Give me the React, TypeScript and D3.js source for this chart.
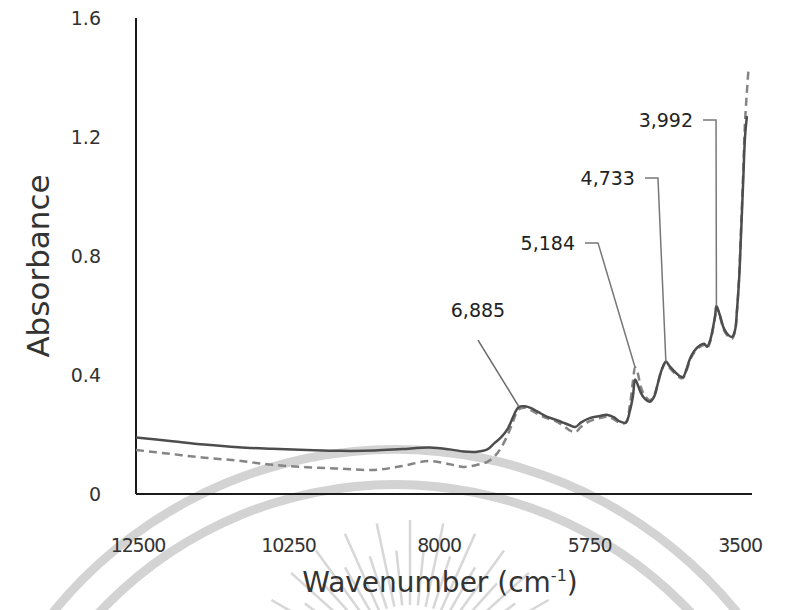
import React from "react";
import * as d3 from "d3";

// Wavenumber grid (cm^-1) and the two absorbance spectra
const wavenumbers = [
  12500, 12000, 11500, 11000, 10500, 10000, 9500, 9000, 8600, 8200, 7900, 7700,
  7500, 7350, 7250, 7150, 7050, 6980, 6930, 6885, 6800, 6700, 6600, 6480, 6350,
  6240, 6150, 6060, 5980, 5850, 5700, 5600, 5500, 5400, 5320, 5260, 5215, 5184,
  5150, 5100, 5040, 4966, 4900, 4849, 4790, 4733, 4680, 4600, 4520, 4482, 4430,
  4380, 4320, 4233, 4170, 4130, 4080, 4042, 4010, 3992, 3940, 3880, 3820, 3764,
  3720, 3690, 3660, 3630, 3600, 3573, 3545,
];

const sampleA = [
  0.19, 0.178, 0.166, 0.157, 0.152, 0.148, 0.145, 0.146, 0.151, 0.156, 0.15, 0.143,
  0.142, 0.15, 0.17, 0.19, 0.22, 0.255, 0.28, 0.293, 0.295, 0.288, 0.275, 0.26, 0.25,
  0.24, 0.232, 0.225, 0.24, 0.255, 0.262, 0.266, 0.258, 0.243, 0.24, 0.28, 0.33, 0.385,
  0.37, 0.34, 0.32, 0.31, 0.33, 0.373, 0.42, 0.445, 0.43, 0.41, 0.395, 0.393, 0.42,
  0.455, 0.48, 0.5, 0.505, 0.495, 0.52, 0.56, 0.6, 0.632, 0.6, 0.555, 0.535, 0.528,
  0.55, 0.62, 0.72, 0.88, 1.05, 1.2, 1.27,
];

const sampleB = [
  0.148, 0.135, 0.122, 0.112, 0.098, 0.09, 0.085, 0.081, 0.094, 0.111, 0.1, 0.091,
  0.098, 0.108, 0.125, 0.155, 0.2, 0.24, 0.27, 0.285, 0.29, 0.28, 0.268, 0.255, 0.245,
  0.23, 0.215, 0.208, 0.225, 0.245, 0.255, 0.26, 0.252, 0.238, 0.24, 0.3, 0.38, 0.425,
  0.41, 0.36, 0.33, 0.315, 0.335, 0.375, 0.42, 0.44, 0.425, 0.405, 0.39, 0.39, 0.415,
  0.45, 0.475, 0.495, 0.5, 0.49, 0.515, 0.555, 0.6, 0.63, 0.595, 0.55, 0.53, 0.522,
  0.545, 0.62, 0.73, 0.9, 1.08, 1.25, 1.42,
];

const xTicks = [12500, 10250, 8000, 5750, 3500];
const yTicks = [0, 0.4, 0.8, 1.2, 1.6];

// Peak annotations: wavenumber, absorbance at the tip, label and label anchor
const peakWavenumbers = [6885, 5184, 4733, 3992];
const peakLabels = ["6,885", "5,184", "4,733", "3,992"];
const peakTips = [0.293, 0.425, 0.445, 0.632];
const peakLabelAbs = [0.618, 0.844, 1.062, 1.257];
const peakLabelWn = [7487, 6065, 5186, 4335];

const FONT = "'DejaVu Sans', Verdana, sans-serif";

export default function App() {
  const width = 786;
  const height = 610;
  const plot = { left: 136, right: 750, top: 18, bottom: 494 };

  const x = d3.scaleLinear().domain([12500, 3500]).range([plot.left, plot.right]);
  const y = d3.scaleLinear().domain([0, 1.6]).range([plot.bottom, plot.top]);
  const tickX = d3.scaleLinear().domain([12500, 3500]).range([138, 740]);

  const line = d3
    .line<number>()
    .x((_, i) => x(wavenumbers[i]))
    .y((d) => y(d))
    .curve(d3.curveCatmullRom.alpha(0.5));

  const lineB = d3
    .line<number>()
    .x((_, i) => x(i === wavenumbers.length - 1 ? 3525 : wavenumbers[i]))
    .y((d) => y(d))
    .curve(d3.curveCatmullRom.alpha(0.5));

  // faint emblem behind the plot
  const emblemC = { cx: 395, cy: 890 };
  const arcOuter = d3.arc()({ innerRadius: 436, outerRadius: 445, startAngle: -Math.PI / 2, endAngle: Math.PI / 2 }) as string;
  const arcInner = d3.arc()({ innerRadius: 401, outerRadius: 410, startAngle: -Math.PI / 2, endAngle: Math.PI / 2 }) as string;
  const rayAngles = d3.range(-72, 73, 6);

  return (
    <svg width={width} height={height} style={{ display: "block", position: "absolute", left: 0, top: 0, background: "#fff" }}>
      <g opacity={0.5}>
        <path d={arcOuter} transform={`translate(${emblemC.cx},${emblemC.cy})`} fill="#a8a8a8" />
        <path d={arcInner} transform={`translate(${emblemC.cx},${emblemC.cy})`} fill="#a8a8a8" />
        {rayAngles.map((a, i) => {
          const t = ((a - 90) * Math.PI) / 180;
          const r0 = 75;
          const r1 = i % 2 === 0 ? 160 : 130;
          const cx = 410;
          const cy = 680;
          return (
            <line
              key={i}
              x1={cx + r0 * Math.cos(t)}
              y1={cy + r0 * Math.sin(t)}
              x2={cx + r1 * Math.cos(t)}
              y2={cy + r1 * Math.sin(t)}
              stroke="#b0b0b0"
              strokeWidth={2.5}
            />
          );
        })}
      </g>

      {/* axes */}
      <line x1={plot.left} x2={plot.left} y1={plot.top} y2={plot.bottom} stroke="#1a1a1a" strokeWidth={2} />
      <line x1={plot.left} x2={752} y1={plot.bottom} y2={plot.bottom} stroke="#1a1a1a" strokeWidth={2} />

      {yTicks.map((t) => (
        <text key={t} x={101} y={y(t)} dy="0.36em" textAnchor="end" fontFamily={FONT} fontSize={19} fill="#333">
          {t === 0 ? "0" : t.toFixed(1)}
        </text>
      ))}
      {xTicks.map((t) => (
        <text key={t} x={tickX(t)} y={552} textAnchor="middle" fontFamily={FONT} fontSize={19} letterSpacing={-1.2} fill="#333">
          {t}
        </text>
      ))}

      <text
        transform={`translate(49,${(plot.top + plot.bottom) / 2 + 10}) rotate(-90)`}
        textAnchor="middle"
        fontFamily={FONT}
        fontSize={31}
        fill="#333"
      >
        Absorbance
      </text>
      <text x={440} y={592} textAnchor="middle" fontFamily={FONT} fontSize={28} fill="#333">
        Wavenumber (cm
        <tspan dy={-11} fontSize={16}>-1</tspan>
        <tspan dy={11}>)</tspan>
      </text>

      {/* spectra */}
      <path d={lineB(sampleB) ?? ""} fill="none" stroke="#858585" strokeWidth={2.5} strokeDasharray="8,5" />
      <path d={line(sampleA) ?? ""} fill="none" stroke="#4d4d4d" strokeWidth={2.5} />

      {/* peak annotations */}
      {peakWavenumbers.map((w, i) => {
        const tx = x(w);
        const ty = y(peakTips[i]);
        const lx = x(peakLabelWn[i]);
        const ly = y(peakLabelAbs[i]);
        if (i === 0) {
          return (
            <g key={w}>
              <line x1={lx} y1={ly + 30} x2={tx} y2={ty} stroke="#666" strokeWidth={1.5} />
              <text x={lx} y={ly} dy="0.36em" textAnchor="middle" fontFamily={FONT} fontSize={19} fill="#222">
                {peakLabels[i]}
              </text>
            </g>
          );
        }
        return (
          <g key={w}>
            <polyline
              points={`${lx + 10},${ly} ${lx + 23},${ly} ${tx},${ty}`}
              fill="none"
              stroke="#777"
              strokeWidth={1.5}
            />
            <text x={lx} y={ly} dy="0.36em" textAnchor="end" fontFamily={FONT} fontSize={19} fill="#222">
              {peakLabels[i]}
            </text>
          </g>
        );
      })}
    </svg>
  );
}
